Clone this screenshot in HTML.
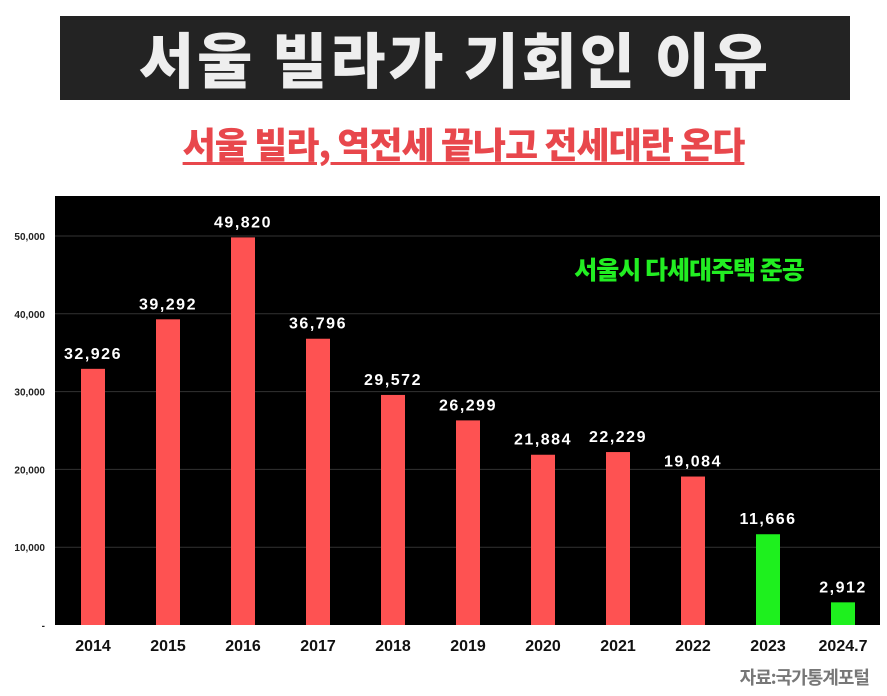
<!DOCTYPE html>
<html><head><meta charset="utf-8"><style>
body{margin:0;width:887px;height:696px;background:#fff;overflow:hidden;position:relative;font-family:"Liberation Sans","Noto Sans CJK KR",sans-serif}
#title{position:absolute;left:60px;top:16px;width:790px;height:84px;background:#232323;color:#eee;font:900 60px "Noto Sans CJK KR",sans-serif;text-align:center;line-height:84px;letter-spacing:3px}
#sub{position:absolute;left:20px;width:887px;top:117px;text-align:center;color:#e8474c;font:900 36px "Noto Sans CJK KR",sans-serif;letter-spacing:-1px}
#sub span{text-decoration:underline;text-decoration-thickness:3px;text-underline-offset:4px}
#src{position:absolute;right:18px;top:664px;color:#777;font:700 18px "Noto Sans CJK KR",sans-serif;letter-spacing:-1px}
</style></head><body>
<div id="title">서울 빌라가 기회인 이유</div>
<div id="sub"><span>서울 빌라, 역전세 끝나고 전세대란 온다</span></div>
<svg id="chart" width="887" height="696" style="position:absolute;left:0;top:0"></svg>
<div id="src">자료:국가통계포털</div>
<script>
const categories=["2014","2015","2016","2017","2018","2019","2020","2021","2022","2023","2024.7"];
const values=[32926,39292,49820,36796,29572,26299,21884,22229,19084,11666,2912];
const valueLabels=["32,926","39,292","49,820","36,796","29,572","26,299","21,884","22,229","19,084","11,666","2,912"];
const highlight=[false,false,false,false,false,false,false,false,false,true,true];
const yTicks=[0,10000,20000,30000,40000,50000];
const yTickLabels=["-","10,000","20,000","30,000","40,000","50,000"];
const NS="http://www.w3.org/2000/svg";
const svg=document.getElementById('chart');
const x0=55,x1=880,yTop=196,yBase=625;
const y=v=>yBase-v*(389/50000);
const xc=i=>93+i*75;
function mk(t,a,txt){const e=document.createElementNS(NS,t);for(const k in a)e.setAttribute(k,a[k]);if(txt!=null)e.textContent=txt;svg.appendChild(e);return e;}
let bg=mk('rect',{x:x0,y:yTop,width:x1-x0,height:yBase-yTop,fill:'#000'});


yTicks.forEach((t,i)=>{
  if(t>0){let g=mk('line',{x1:x0,x2:x1,y1:y(t),y2:y(t),stroke:'#333','stroke-width':1});
  
  }
  let l=mk('text',{x:45,y:y(t)+4,'text-anchor':'end','font-size':10,'font-weight':'bold',fill:'#222'},yTickLabels[i]);
  
  
});
categories.forEach((c,i)=>{
  const col=highlight[i]?'#1ef01e':'#fe5252';
  let b=mk('rect',{x:xc(i)-12,y:y(values[i]),width:24,height:yBase-y(values[i]),fill:col});
  
  
  let v=mk('text',{x:xc(i),y:y(values[i])-10,'text-anchor':'middle','font-size':16,'font-weight':'bold',fill:'#fff','letter-spacing':'1.5'},valueLabels[i]);
  
  
  let xl=mk('text',{x:xc(i),y:651,'text-anchor':'middle','font-size':16,'font-weight':'bold',fill:'#111'},c);
  
  
});
let lg=mk('text',{x:689,y:279,'text-anchor':'middle','font-size':25,'font-weight':'900',fill:'#22ee22','font-family':'Noto Sans CJK KR, sans-serif','letter-spacing':'-1'},'서울시 다세대주택 준공');


</script>
</body></html>
